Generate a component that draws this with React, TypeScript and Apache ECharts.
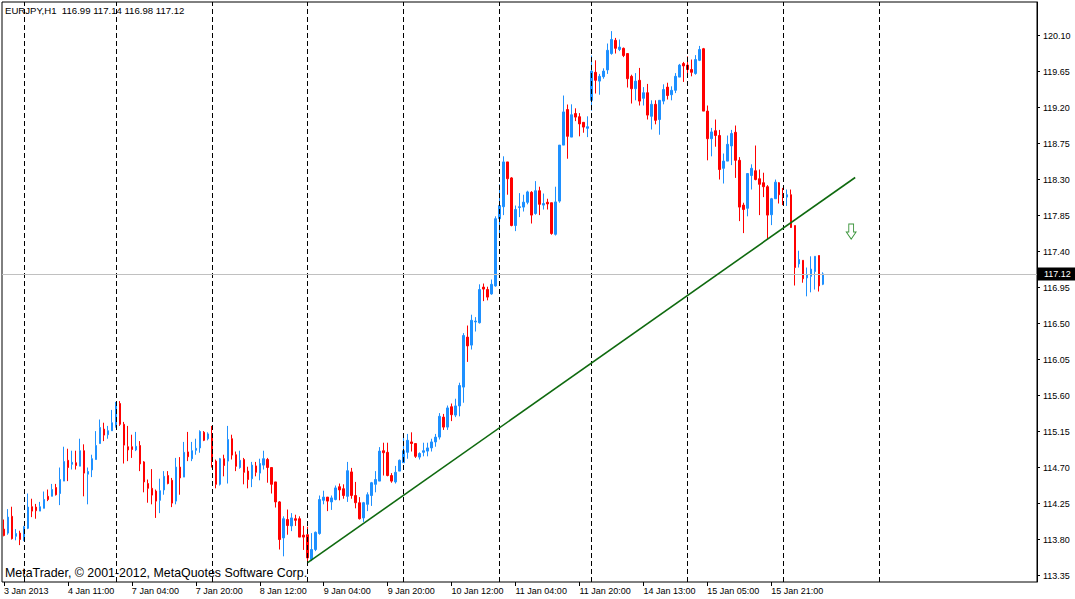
import React, { useEffect, useRef } from "react";
import * as echarts from "echarts";

// EURJPY H1 bars: [open, high, low, close]; first bar = 3 Jan 2013 19:00
const bars: [number, number, number, number][] = [
  [113.93, 114.05, 113.84, 113.85],
  [113.88, 114.18, 113.86, 114.08],
  [114.09, 114.21, 113.8, 113.81],
  [113.84, 113.93, 113.79, 113.875],
  [113.88, 113.91, 113.73, 113.8],
  [113.79, 113.97, 113.78, 113.96],
  [113.94, 114.375, 113.93, 114.205],
  [114.21, 114.31, 114.08, 114.155],
  [114.205, 114.245, 114.06, 114.16],
  [114.155, 114.27, 114.155, 114.21],
  [114.19, 114.4, 114.19, 114.3],
  [114.34, 114.425, 114.28, 114.3],
  [114.34, 114.495, 114.34, 114.425],
  [114.45, 114.495, 114.35, 114.36],
  [114.375, 114.7, 114.23, 114.55],
  [114.53, 114.96, 114.53, 114.775],
  [114.79, 114.935, 114.53, 114.7],
  [114.74, 114.91, 114.675, 114.765],
  [114.76, 114.91, 114.675, 114.725],
  [114.717, 115.06, 114.717, 114.91],
  [114.91, 114.99, 114.34, 114.63],
  [114.617, 114.7, 114.24, 114.65],
  [114.67, 114.86, 114.58, 114.81],
  [114.8, 115.155, 114.8, 114.975],
  [115.0, 115.3, 115.0, 115.2],
  [115.18, 115.26, 115.03, 115.105],
  [115.11, 115.22, 115.06, 115.16],
  [115.16, 115.42, 115.16, 115.26],
  [115.21, 115.52, 115.2, 115.49],
  [115.5, 115.53, 115.22, 115.24],
  [115.24, 115.27, 114.75, 114.98],
  [114.96, 115.22, 114.78, 114.92],
  [114.96, 115.11, 114.82, 114.925],
  [114.92, 115.145, 114.905, 114.965],
  [114.975, 115.03, 114.655, 114.745],
  [114.77, 114.78, 114.39, 114.52],
  [114.5, 114.55, 114.26, 114.44],
  [114.44, 114.68, 114.24, 114.355],
  [114.405, 114.425, 114.07, 114.28],
  [114.29, 114.56, 114.13, 114.41],
  [114.42, 114.655, 114.36, 114.59],
  [114.6, 114.655, 114.49, 114.5],
  [114.54, 114.57, 114.205, 114.255],
  [114.28, 114.82, 114.24, 114.705],
  [114.705, 114.83, 114.36, 114.57],
  [114.58, 115.02, 114.58, 114.89],
  [114.895, 115.145, 114.78, 114.835],
  [114.81, 115.02, 114.78, 114.91],
  [114.915, 115.06, 114.86, 114.94],
  [114.945, 115.165, 114.885, 115.15],
  [115.14, 115.155, 115.03, 115.04],
  [115.06, 115.14, 115.04, 115.12],
  [115.12, 115.22, 114.7, 114.78],
  [114.78, 114.8, 114.44, 114.49],
  [114.49, 114.82, 114.475, 114.81],
  [114.81, 114.86, 114.59, 114.725],
  [114.78, 115.22, 114.5, 115.05],
  [115.06, 115.11, 114.8, 114.855],
  [114.86, 114.9, 114.655, 114.715],
  [114.7, 114.91, 114.685, 114.79],
  [114.8, 114.82, 114.49, 114.64],
  [114.655, 114.71, 114.44, 114.55],
  [114.56, 114.77, 114.455, 114.73],
  [114.72, 114.77, 114.59, 114.64],
  [114.63, 114.81, 114.54, 114.75],
  [114.73, 114.91, 114.675, 114.81],
  [114.8, 114.82, 114.51, 114.7],
  [114.7, 114.7, 114.375, 114.49],
  [114.52, 114.52, 114.2, 114.27],
  [114.27, 114.28, 113.675, 113.8],
  [113.82, 114.09, 113.59, 114.06],
  [114.05, 114.175, 113.86, 113.975],
  [113.97, 114.13, 113.905, 114.07],
  [114.06, 114.11, 113.97, 114.04],
  [114.06, 114.09, 113.83, 113.83],
  [113.855, 113.97, 113.67, 113.83],
  [113.86, 113.96, 113.53, 113.57],
  [113.55, 113.88, 113.53, 113.675],
  [113.675, 113.9, 113.655, 113.89],
  [113.875, 114.35, 113.86, 114.3],
  [114.29, 114.41, 114.24, 114.33],
  [114.33, 114.33, 114.155, 114.28],
  [114.27, 114.35, 114.17, 114.32],
  [114.3, 114.475, 114.29, 114.445],
  [114.46, 114.5, 114.29, 114.42],
  [114.435, 114.49, 114.31, 114.35],
  [114.34, 114.77, 114.27, 114.66],
  [114.645, 114.695, 114.31, 114.35],
  [114.35, 114.52, 114.19, 114.26],
  [114.26, 114.33, 114.05, 114.06],
  [114.07, 114.27, 114.02, 114.26],
  [114.24, 114.39, 114.155, 114.36],
  [114.35, 114.52, 114.22, 114.51],
  [114.49, 114.655, 114.39, 114.55],
  [114.53, 114.955, 114.53, 114.905],
  [114.91, 115.01, 114.6, 114.885],
  [114.89, 115.01, 114.59, 114.6],
  [114.6, 114.63, 114.51, 114.53],
  [114.52, 114.72, 114.5, 114.64],
  [114.655, 114.8, 114.655, 114.79],
  [114.76, 115.125, 114.76, 114.91],
  [114.89, 115.12, 114.81, 115.04],
  [115.02, 115.14, 114.9, 115.0],
  [115.0, 115.0, 114.82, 114.84],
  [114.83, 114.89, 114.8, 114.875],
  [114.89, 115.01, 114.84, 114.91],
  [114.905, 115.01, 114.84, 114.945],
  [114.945, 115.06, 114.9, 115.02],
  [115.02, 115.12, 114.96, 115.08],
  [115.08, 115.38, 115.05, 115.34],
  [115.33, 115.37, 115.17, 115.205],
  [115.205, 115.475, 115.17, 115.445],
  [115.46, 115.5, 115.28, 115.36],
  [115.355, 115.56, 115.33, 115.47],
  [115.47, 115.76, 115.34, 115.725],
  [115.705, 116.38, 115.51, 116.35],
  [116.33, 116.475, 116.02, 116.22],
  [116.23, 116.61, 116.175, 116.54],
  [116.52, 116.58, 116.4, 116.53],
  [116.51, 116.99, 116.5, 116.925],
  [116.955, 117.0, 116.78, 116.93],
  [116.925, 116.96, 116.79, 116.83],
  [116.87, 117.05, 116.86, 116.99],
  [116.97, 117.84, 116.96, 117.81],
  [117.81, 118.24, 117.59, 117.975],
  [117.96, 118.59, 117.855, 118.52],
  [118.52, 118.52, 118.11, 118.31],
  [118.32, 118.33, 117.715, 117.725],
  [117.725, 117.975, 117.655, 117.925],
  [117.95, 118.13, 117.83, 117.96],
  [117.955, 118.11, 117.9, 118.017],
  [118.015, 118.16, 117.99, 118.145],
  [118.14, 118.155, 117.75, 117.855],
  [117.875, 118.28, 117.86, 118.16],
  [118.16, 118.21, 117.855, 117.99],
  [117.98, 118.125, 117.925, 118.0],
  [118.016, 118.06, 117.925, 117.995],
  [118.01, 118.01, 117.61, 117.625],
  [117.615, 118.21, 117.6, 118.02],
  [118.03, 118.73, 118.01, 118.73],
  [118.73, 119.35, 118.73, 119.145],
  [119.175, 119.2375, 118.56, 118.84],
  [118.83, 119.24, 118.83, 119.11],
  [119.125, 119.19, 119.03, 119.08],
  [119.085, 119.13, 118.84, 118.995],
  [119.015, 119.015, 118.885, 118.955],
  [118.94, 119.09, 118.83, 118.96],
  [119.29, 119.85, 119.16, 119.655],
  [119.64, 119.79, 119.375, 119.54],
  [119.53, 119.62, 119.36, 119.59],
  [119.585, 119.69, 119.56, 119.655],
  [119.67, 120.0, 119.62, 119.915],
  [119.875, 120.155, 119.86, 120.05],
  [120.04, 120.07, 119.875, 119.94],
  [119.925, 120.05, 119.905, 119.955],
  [119.94, 119.95, 119.83, 119.85],
  [119.875, 119.875, 119.45, 119.56],
  [119.59, 119.61, 119.25, 119.435],
  [119.435, 119.63, 119.29, 119.53],
  [119.54, 119.695, 119.225, 119.28],
  [119.315, 119.455, 119.225, 119.385],
  [119.385, 119.495, 119.05, 119.105],
  [119.09, 119.29, 118.925, 119.24],
  [119.24, 119.29, 118.99, 119.04],
  [119.05, 119.29, 118.86, 119.29],
  [119.28, 119.49, 119.24, 119.425],
  [119.455, 119.51, 119.3, 119.35],
  [119.36, 119.465, 119.29, 119.415],
  [119.415, 119.63, 119.38, 119.59],
  [119.58, 119.745, 119.58, 119.73],
  [119.75, 119.77, 119.52, 119.72],
  [119.73, 119.84, 119.58, 119.675],
  [119.675, 119.8, 119.59, 119.64],
  [119.625, 119.855, 119.61, 119.8],
  [119.79, 119.97, 119.78, 119.925],
  [119.935, 119.945, 119.155, 119.155],
  [119.155, 119.225, 118.54, 118.81],
  [118.81, 118.945, 118.59, 118.895],
  [118.91, 119.05, 118.71, 118.85],
  [118.85, 118.92, 118.3, 118.425],
  [118.44, 118.625, 118.25, 118.53],
  [118.53, 118.85, 118.53, 118.74],
  [118.72, 118.92, 118.48, 118.875],
  [118.89, 118.975, 118.32, 118.54],
  [118.54, 118.58, 117.78, 117.955],
  [117.98, 118.01, 117.63, 117.925],
  [117.94, 118.375, 117.84, 118.375],
  [118.35, 118.49, 118.175, 118.44],
  [118.41, 118.725, 118.29, 118.3],
  [118.31, 118.425, 117.855, 118.24],
  [118.26, 118.385, 118.08, 118.21],
  [118.21, 118.23, 117.55, 117.855],
  [117.86, 118.07, 117.73, 118.06],
  [118.06, 118.3, 118.06, 118.267],
  [118.26, 118.267, 118.0, 118.11],
  [118.125, 118.195, 117.98, 118.09],
  [118.08, 118.175, 117.97, 118.11],
  [118.11, 118.175, 117.695, 117.7],
  [117.725, 117.725, 116.975, 117.2],
  [117.245, 117.41, 117.2, 117.3],
  [117.29, 117.29, 117.01, 117.06],
  [117.07, 117.2, 116.84, 117.11],
  [117.09, 117.34, 116.89, 117.18],
  [117.15, 117.34, 116.925, 117.34],
  [117.35, 117.35, 116.9, 116.97],
  [116.99, 117.14, 116.98, 117.12],
];

const SLOT_COUNT = 259; // bar slots shown on the time axis (incl. empty right margin)
const LABEL_STEP = 16;
const timeLabels = [
  "3 Jan 2013", "4 Jan 11:00", "7 Jan 04:00", "7 Jan 20:00", "8 Jan 12:00",
  "9 Jan 04:00", "9 Jan 20:00", "10 Jan 12:00", "11 Jan 04:00", "11 Jan 20:00",
  "14 Jan 13:00", "15 Jan 05:00", "15 Jan 21:00",
];
const daySeparators = [5, 28, 52, 76, 100, 124, 147, 171, 195, 219];
const priceTicks = [
  113.35, 113.8, 114.25, 114.7, 115.15, 115.6, 116.05, 116.5, 116.95, 117.4,
  117.85, 118.3, 118.75, 119.2, 119.65, 120.1,
];
const bidPrice = 117.12;
const trendLine: [number, number][] = [
  [76, 113.51],
  [213, 118.325],
];
const arrowPoint: [number, number] = [212, 117.65];
const headerText = "EURJPY,H1  116.99 117.14 116.98 117.12";
const copyrightText = "MetaTrader, \u00A9 2001-2012, MetaQuotes Software Corp.";

const FONT = "'Liberation Sans', Arial, sans-serif";

export default function App() {
  const ref = useRef<HTMLDivElement>(null);
  useEffect(() => {
    if (!ref.current) return;
    const chart = echarts.init(ref.current, undefined, { renderer: "svg" });
    const cats = Array.from({ length: SLOT_COUNT }, (_, i) => String(i));
    const showIdx = (i: number) => i % LABEL_STEP === 0 && i / LABEL_STEP < timeLabels.length;
    const candleData = bars.map(([o, h, l, c]) => [o, c, l, h]);

    chart.setOption({
      animation: false,
      backgroundColor: "#ffffff",
      textStyle: { fontFamily: FONT },
      grid: {
        left: 2,
        top: 2,
        right: 38,
        bottom: 17,
        show: true,
        borderColor: "#000",
        borderWidth: 1,
        backgroundColor: "#fff",
      },
      xAxis: {
        type: "category",
        data: cats,
        boundaryGap: true,
        axisLine: { show: false },
        axisTick: {
          show: true,
          alignWithLabel: true,
          interval: (i: number) => showIdx(i),
          length: 4,
          lineStyle: { color: "#000" },
        },
        axisLabel: {
          interval: (i: number) => showIdx(i),
          formatter: (_v: string, i: number) => (showIdx(i) ? timeLabels[i / LABEL_STEP] : ""),
          align: "left",
          color: "#000",
          fontSize: 9,
          fontFamily: FONT,
          margin: 4,
        },
        splitLine: { show: false },
      },
      yAxis: {
        type: "value",
        position: "right",
        min: 113.269,
        max: 120.519,
        scale: true,
        axisLine: { show: true, lineStyle: { color: "#000" } },
        axisTick: {
          show: true,
          length: 3,
          customValues: priceTicks,
          lineStyle: { color: "#000" },
        },
        axisLabel: {
          customValues: priceTicks,
          formatter: (v: number) => v.toFixed(2),
          color: "#000",
          fontSize: 9,
          fontFamily: FONT,
          margin: 6,
        },
        splitLine: { show: false },
      },
      series: [
        {
          type: "candlestick",
          data: candleData,
          barWidth: 2,
          itemStyle: {
            color: "#1E90FF",
            color0: "#FF0000",
            borderColor: "#1E90FF",
            borderColor0: "#FF0000",
            borderWidth: 1,
          },
          markLine: {
            silent: true,
            symbol: ["none", "none"],
            animation: false,
            data: [
              ...daySeparators.map((d) => ({
                xAxis: String(d),
                lineStyle: { color: "#000", type: [5, 3], width: 1 },
                label: { show: false },
              })),
              {
                yAxis: bidPrice,
                lineStyle: { color: "#C0C0C0", type: "solid", width: 1 },
                label: {
                  show: true,
                  position: "end",
                  distance: 1,
                  formatter: bidPrice.toFixed(2),
                  color: "#fff",
                  backgroundColor: "#000",
                  padding: [2, 6, 2, 6],
                  fontSize: 9,
                  fontFamily: FONT,
                },
              },
              [
                {
                  coord: [String(trendLine[0][0]), trendLine[0][1]],
                  lineStyle: { color: "#0f6a0f", type: "solid", width: 1.6 },
                  label: { show: false },
                },
                { coord: [String(trendLine[1][0]), trendLine[1][1]] },
              ],
            ],
          },
        },
        {
          type: "scatter",
          data: [[String(arrowPoint[0]), arrowPoint[1]]],
          symbol: "path://M3,0 L9,0 L9,8 L12,8 L6,15 L0,8 L3,8 Z",
          symbolSize: [12, 15],
          symbolKeepAspect: true,
          itemStyle: { color: "#fff", borderColor: "#0a7a0a", borderWidth: 1 },
          silent: true,
          z: 5,
        },
      ],
      graphic: [
        {
          type: "text",
          left: 5,
          top: 5,
          style: { text: headerText, fill: "#000", font: `9.6px ${FONT}` },
          z: 100,
        },
        {
          type: "text",
          left: 5,
          top: 567,
          style: { text: copyrightText, fill: "#000", font: `12.4px ${FONT}` },
          z: 100,
        },
      ],
    });
    return () => chart.dispose();
  }, []);
  return (
    <div
      ref={ref}
      style={{ position: "fixed", left: 0, top: 0, width: 1075, height: 599, background: "#fff" }}
    />
  );
}
